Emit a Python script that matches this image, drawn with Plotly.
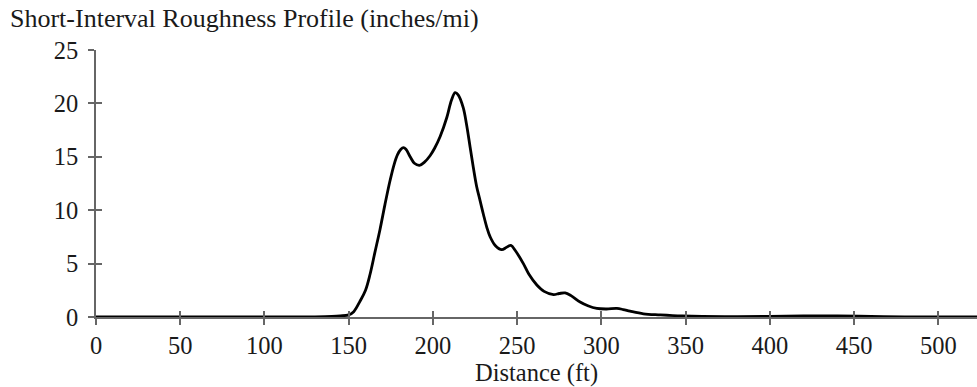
import plotly.graph_objects as go

# Data
distance_ft = [0, 50, 100, 120, 130, 140, 145, 150, 153, 156.8, 160, 162.7, 165.5, 168.6,
               171.5, 174.6, 177, 179, 181, 182.5, 184, 186.5, 189, 192, 195, 198.3, 201,
               204.3, 208.3, 211, 213.2, 215, 218, 220, 222.1, 224, 226, 228, 230, 232, 234,
               237, 240.9, 243.5, 246.3, 249, 253.7, 257, 261.7, 266, 271.6, 275, 278.5, 282,
               287.4, 292, 297.3, 303, 309.2, 313, 317, 325, 335, 348, 360, 380, 400, 420,
               440, 460, 480, 500, 523]
roughness = [0, 0, 0, 0, 0.01, 0.05, 0.1, 0.2, 0.5, 1.5, 2.5, 4.0, 6.0, 8.2,
             10.5, 12.8, 14.3, 15.2, 15.7, 15.85, 15.7, 15.0, 14.4, 14.2, 14.5, 15.1, 15.8,
             16.9, 18.7, 20.3, 21.0, 20.8, 19.6, 18.0, 15.9, 14.0, 12.2, 10.9, 9.6, 8.4, 7.5,
             6.7, 6.3, 6.5, 6.7, 6.2, 5.0, 4.0, 3.0, 2.4, 2.1, 2.2, 2.25, 2.0,
             1.4, 1.05, 0.8, 0.75, 0.8, 0.7, 0.55, 0.3, 0.2, 0.1, 0.05, 0.03, 0.05, 0.1,
             0.1, 0.06, 0.02, 0, 0]

x_ticks = [0, 50, 100, 150, 200, 250, 300, 350, 400, 450, 500]
y_ticks = [0, 5, 10, 15, 20, 25]
x_range = [0, 523]
y_range = [0, 25]

title_text = "Short-Interval Roughness Profile (inches/mi)"
x_title = "Distance (ft)"

FONT = "Liberation Serif"
TXT = "#1a1a1a"
AX = "#666666"

fig = go.Figure()
fig.add_trace(go.Scatter(x=distance_ft, y=roughness, mode="lines",
                         line=dict(color="#000000", width=2.8, shape="spline", smoothing=1.0),
                         hoverinfo="skip", showlegend=False, xaxis="x", yaxis="y"))
# helper trace so the overlaying axes (inside half of crossing ticks) are drawn
fig.add_trace(go.Scatter(x=[None], y=[None], mode="lines", showlegend=False,
                         hoverinfo="skip", xaxis="x2", yaxis="y2"))

common_tick = dict(tickcolor=AX, tickwidth=1.5, ticklen=6)

fig.update_layout(
    width=977, height=387,
    margin=dict(l=96, r=0, t=50, b=70),
    paper_bgcolor="white", plot_bgcolor="white",
    font=dict(family=FONT, color=TXT, size=24.5),
    showlegend=False,
    xaxis=dict(range=x_range, tickmode="array", tickvals=x_ticks, ticks="outside",
               showline=True, linecolor=AX, linewidth=1.8, showgrid=False, zeroline=False,
               tickfont=dict(family=FONT, size=24.5, color=TXT),
               title=dict(text=x_title, font=dict(family=FONT, size=24.5, color=TXT), standoff=2),
               fixedrange=True, **common_tick),
    yaxis=dict(range=y_range, tickmode="array", tickvals=y_ticks, ticks="outside",
               showline=True, linecolor=AX, linewidth=1.8, showgrid=False, zeroline=False,
               tickfont=dict(family=FONT, size=24.5, color=TXT), ticklabelstandoff=5,
               fixedrange=True, **common_tick),
    xaxis2=dict(range=x_range, overlaying="x", side="bottom", tickmode="array",
                tickvals=x_ticks, ticks="inside", showticklabels=False, showline=False,
                showgrid=False, zeroline=False, fixedrange=True, **common_tick),
    yaxis2=dict(range=y_range, overlaying="y", side="left", tickmode="array",
                tickvals=y_ticks, ticks="inside", showticklabels=False, showline=False,
                showgrid=False, zeroline=False, fixedrange=True, **common_tick),
    title=dict(text=title_text, xref="container", x=10 / 977, xanchor="left",
               yref="container", y=1 - 9 / 387, yanchor="top",
               font=dict(family=FONT, size=26, color=TXT)),
)

fig.write_html("out.html")
